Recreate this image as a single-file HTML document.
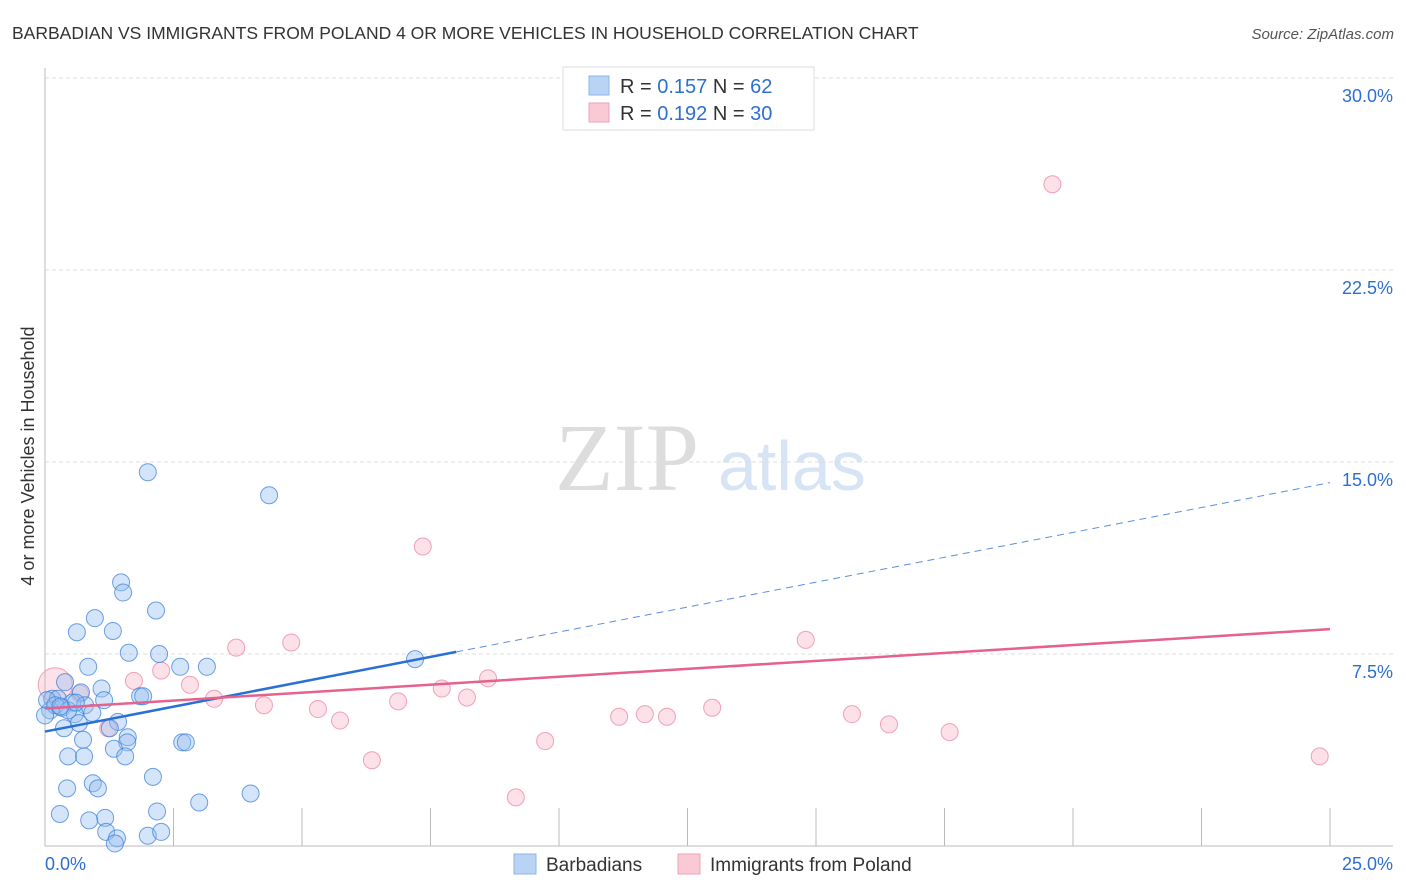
<!DOCTYPE html>
<html><head><meta charset="utf-8"><style>
body{margin:0;background:#fff;font-family:"Liberation Sans",sans-serif;}
svg{display:block}
</style></head><body>
<svg id="chart" width="1406" height="892" xmlns="http://www.w3.org/2000/svg">
<text x="12" y="39" font-size="17.5" fill="#333">BARBADIAN VS IMMIGRANTS FROM POLAND 4 OR MORE VEHICLES IN HOUSEHOLD CORRELATION CHART</text>
<text x="1394" y="39" font-size="15" fill="#555" font-style="italic" text-anchor="end">Source: ZipAtlas.com</text>
<g>
<text x="555" y="490" font-size="96" fill="#ddd" font-family="Liberation Serif,serif">ZIP</text>
<text x="718" y="490" font-size="70" fill="#d6e4f5">atlas</text>
</g>
<text transform="translate(34,456) rotate(-90)" font-size="18" fill="#333" text-anchor="middle">4 or more Vehicles in Household</text>
<g id="grid"></g><g id="marks"></g>
<g>
<rect x="563" y="67" width="251" height="63" fill="#fff" stroke="#ddd"/>
<rect x="589" y="76" width="20" height="19" fill="#b9d3f5" stroke="#8fb5e8"/>
<rect x="589" y="103" width="20" height="19" fill="#f9c9d6" stroke="#eea3b8"/>
<text x="620" y="93" font-size="20" fill="#333">R = <tspan fill="#2d6fd1">0.157</tspan>   N = <tspan fill="#2d6fd1">62</tspan></text>
<text x="620" y="120" font-size="20" fill="#333">R = <tspan fill="#2d6fd1">0.192</tspan>   N = <tspan fill="#2d6fd1">30</tspan></text>
</g>
<g>
<rect x="514" y="854" width="22" height="20" fill="#b9d3f5" stroke="#8fb5e8"/>
<text x="546" y="871" font-size="19" fill="#333">Barbadians</text>
<rect x="678" y="854" width="22" height="20" fill="#f9c9d6" stroke="#eea3b8"/>
<text x="710" y="871" font-size="19" fill="#333">Immigrants from Poland</text>
</g>
</svg>
<script>
const yTicks=[7.5,15,22.5,30];
const yTickLabels=["7.5%","15.0%","22.5%","30.0%"];
const xTickLabels=["0.0%","25.0%"];
const blueX=[2.0,4.36,1.48,1.52,0.97,2.16,0.62,1.32,1.63,2.22,0.84,2.63,3.15,7.2,0.39,0.7,1.1,1.85,1.91,1.15,0.14,0.25,0.53,0.78,0.1,0.33,0.58,1.42,0.66,0.37,1.26,0.74,1.61,1.6,1.34,2.67,2.74,0.45,0.76,1.56,2.1,0.93,1.03,0.43,3.0,4.0,2.18,0.29,1.17,0.86,1.19,1.4,2.0,2.26,1.36,0.04,0.2,0.45,0.92,0.0,0.6,0.3];
const blueY=[14.6,13.7,10.3,9.9,8.9,9.2,8.35,8.4,7.55,7.5,7.0,7.0,7.0,7.3,6.4,6.0,6.15,5.85,5.85,5.7,5.75,5.75,5.6,5.5,5.3,5.4,5.15,4.85,4.8,4.6,4.6,4.15,4.25,4.05,3.8,4.05,4.05,3.5,3.5,3.5,2.7,2.45,2.25,2.25,1.7,2.05,1.35,1.25,1.1,1.0,0.55,0.3,0.4,0.55,0.1,5.7,5.5,5.3,5.2,5.1,5.6,5.45];
const pinkX=[19.6,7.35,3.72,4.79,14.8,2.26,1.73,2.82,7.72,8.62,3.29,8.21,6.87,4.26,5.31,5.74,12.98,11.17,11.67,12.1,15.7,16.42,17.6,9.73,6.36,9.16,24.8,1.23,0.2,0.68];
const pinkY=[25.85,11.7,7.75,7.95,8.05,6.85,6.45,6.3,6.15,6.55,5.75,5.8,5.65,5.5,5.35,4.9,5.4,5.05,5.15,5.05,5.15,4.75,4.45,4.1,3.35,1.9,3.5,4.6,6.3,5.95];
const blueTrend=[4.47,0.389];
const pinkTrend=[5.37,0.124];
const X=v=>45+v*51.4, Y=v=>846-v*25.6;
const NS="http://www.w3.org/2000/svg";
function mk(t,a,p){const e=document.createElementNS(NS,t);for(const k in a)e.setAttribute(k,a[k]);p.appendChild(e);return e;}
const g=document.getElementById('grid'),m=document.getElementById('marks');
yTicks.forEach((t,i)=>{
 const l=mk('line',{x1:45,x2:1393,y1:Y(t),y2:Y(t),stroke:'#ddd','stroke-dasharray':'4,3'},g);
 
 
 const tx=mk('text',{x:1393,y:Y(t)+24,'font-size':18,fill:'#2d6fd1','text-anchor':'end'},g);
 tx.textContent=yTickLabels[i];
 
 
});
const ax=mk('path',{d:'M45,68 V846 H1393',stroke:'#bbb',fill:'none'},g);


for(let i=1;i<=10;i++){const t=mk('line',{x1:X(i*2.5),x2:X(i*2.5),y1:846,y2:808,stroke:'#bbb'},g);
 
 }
[[0,'start',45],[25,'end',1393]].forEach((d,i)=>{const t=mk('text',{x:d[2],y:870,'font-size':18,fill:'#2d6fd1','text-anchor':d[1]},g);t.textContent=xTickLabels[i];
 
 });
pinkX.forEach((x,i)=>{const c=mk('circle',{cx:X(x),cy:Y(pinkY[i]),r:i==28?17:8.5,fill:'rgba(246,170,193,0.35)',stroke:'rgba(236,140,170,0.8)','stroke-width':1},m);
 
 });
blueX.forEach((x,i)=>{const c=mk('circle',{cx:X(x),cy:Y(blueY[i]),r:8.5,fill:'rgba(150,190,240,0.4)',stroke:'rgba(60,130,220,0.75)','stroke-width':1},m);
 
 });
const bt=v=>blueTrend[0]+blueTrend[1]*v, pt=v=>pinkTrend[0]+pinkTrend[1]*v;
let l=mk('line',{x1:X(0),y1:Y(bt(0)),x2:X(8),y2:Y(bt(8)),stroke:'#2a6fd6','stroke-width':2.5},m);


l=mk('line',{x1:X(8),y1:Y(bt(8)),x2:X(25),y2:Y(bt(25)),stroke:'#5b8fdc','stroke-width':1,'stroke-dasharray':'7,5'},m);


l=mk('line',{x1:X(0),y1:Y(pt(0)),x2:X(25),y2:Y(pt(25)),stroke:'#e5628d','stroke-width':2.5},m);


</script>
</body></html>
